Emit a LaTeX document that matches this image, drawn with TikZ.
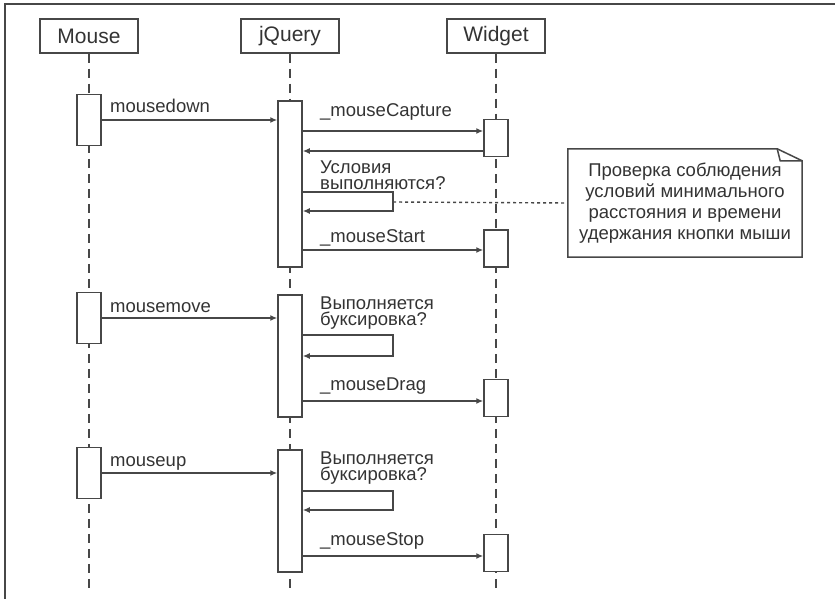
\documentclass[tikz,border=0pt]{standalone}
\usepackage{fontspec}
\setmainfont{Liberation Sans}
\usetikzlibrary{arrows.meta}

\definecolor{linegray}{HTML}{474747}
\definecolor{textgray}{HTML}{333333}

\tikzset{
	head/.style = {draw = linegray, line width = 1.5pt, fill = white, minimum width = 98pt, minimum height = 34pt, inner sep = 0pt, text = textgray, font = \fontsize{21}{25}\selectfont},
	act/.style = {draw = linegray, line width = 1.5pt, fill = white, minimum width = 24pt, inner sep = 0pt},
	life/.style = {draw = linegray, line width = 1.4pt, dash pattern = on 9pt off 6pt},
	msg/.style = {draw = linegray, line width = 1.4pt, -{Latex[length = 7pt, width = 6pt]}},
	lbl/.style = {anchor = base west, inner sep = 0pt, text = textgray, align = left, font = \fontsize{18.5}{16}\selectfont},
	notetext/.style = {minimum width = 234pt, minimum height = 108pt, inner sep = 0pt, align = center, text = textgray, font = \fontsize{18.5}{21}\selectfont},
	notebox/.style = {draw = linegray, line width = 1.5pt, line join = miter}
}

\begin{document}
\begin{tikzpicture}[x = 1pt, y = -1pt]
	 \useasboundingbox (0, 0) rectangle (835, 599);
	 \draw[linegray, line width = 1.5pt] (5, 599) -- (5, 4) -- (835, 4);
	 
	 \node[head] (mouse) at (89, 36) {Mouse};
	 \node[head] (jquery) at (290, 36) {jQuery};
	 \node[head] (widget) at (496, 36) {Widget};
	 \foreach \n in {mouse, jquery, widget}
	 \draw[life] (\n.south) -- (\n |- 0, 593);
	 
	 \node[act, minimum height = 51pt] (m1) at (89, 120) {};
	 \node[act, minimum height = 51pt] (m2) at (89, 318) {};
	 \node[act, minimum height = 51pt] (m3) at (89, 473) {};
	 \node[act, minimum height = 166pt] (j1) at (290, 184) {};
	 \node[act, minimum height = 122pt] (j2) at (290, 356) {};
	 \node[act, minimum height = 122pt] (j3) at (290, 511) {};
	 \node[act, minimum height = 37pt] (w1) at (496, 138) {};
	 \node[act, minimum height = 37pt] (w2) at (496, 248.5) {};
	 \node[act, minimum height = 37pt] (w3) at (496, 398) {};
	 \node[act, minimum height = 37pt] (w4) at (496, 553) {};
	 
	 \draw[msg] (m1.east) -- (j1.west |- m1.east);
	 \node[lbl] (ldown) at (110, 113) {mousedown};
	 \draw[msg] (j1.east |- 0, 131) -- (w1.west |- 0, 131);
	 \node[lbl] (lcapture) at (320, 117) {\_mouseCapture};
	 \draw[msg] (w1.west |- 0, 151) -- (j1.east |- 0, 151);
	 \coordinate (cond) at (393, 202);
	 \draw[msg] (j1.east |- 0, 192) -| (cond) |- (j1.east |- 0, 211);
	 \node[lbl] (lcond) at (320, 189) {Условия\\выполняются?};
	 \draw[msg] (j1.east |- 0, 250) -- (w2.west |- 0, 250);
	 \node[lbl] (lstart) at (320, 242) {\_mouseStart};
	 
	 \draw[msg] (m2.east) -- (j2.west |- m2.east);
	 \node[lbl] (lmove) at (110, 312) {mousemove};
	 \draw[msg] (j2.east |- 0, 335) -| (393, 345) |- (j2.east |- 0, 356);
	 \node[lbl] (ldrag1) at (320, 325) {Выполняется\\буксировка?};
	 \draw[msg] (j2.east |- 0, 401) -- (w3.west |- 0, 401);
	 \node[lbl] (ldrag) at (320, 390) {\_mouseDrag};
	 
	 \draw[msg] (m3.east) -- (j3.west |- m3.east);
	 \node[lbl] (lup) at (110, 466) {mouseup};
	 \draw[msg] (j3.east |- 0, 491) -| (393, 500) |- (j3.east |- 0, 510);
	 \node[lbl] (ldrag2) at (320, 480) {Выполняется\\буксировка?};
	 \draw[msg] (j3.east |- 0, 556) -- (w4.west |- 0, 556);
	 \node[lbl] (lstop) at (320, 545) {\_mouseStop};
	 
	 \node[notetext] (note) at (685, 203) {Проверка соблюдения\\условий минимального\\расстояния и времени\\удержания кнопки мыши};
	 \draw[notebox] (note.north west) -- ([xshift = -25pt] note.north east) -- ([yshift = -12pt] note.north east) -- (note.south east) -- (note.south west) -- cycle;
	 \draw[notebox] ([xshift = -25pt] note.north east) -- ([xshift = -22pt, yshift = -12pt] note.north east) -- ([yshift = -12pt] note.north east);
	 \draw[linegray, line width = 1.4pt, dash pattern = on 3pt off 3pt] (cond) -- (note.west);
\end{tikzpicture}
\end{document}
